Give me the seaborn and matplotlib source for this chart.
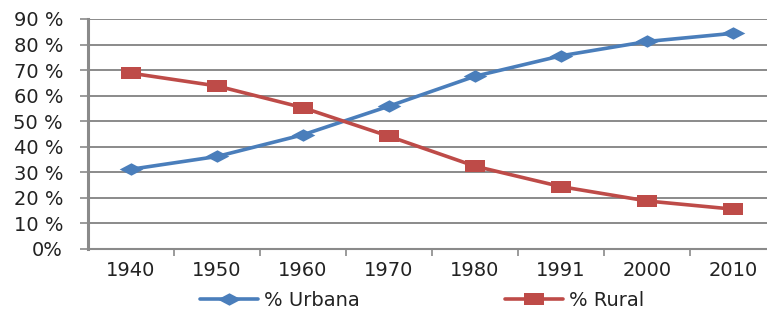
import matplotlib
matplotlib.use("Agg")
import matplotlib.pyplot as plt
import seaborn as sns
import pandas as pd
import numpy as np
from matplotlib.ticker import FixedLocator
from matplotlib.path import Path
from matplotlib.lines import Line2D

years = ["1940", "1950", "1960", "1970", "1980", "1991", "2000", "2010"]
urbana = [31.2, 36.2, 44.7, 55.9, 67.6, 75.6, 81.2, 84.4]
rural = [68.8, 63.8, 55.3, 44.1, 32.4, 24.4, 18.8, 15.6]
series_names = ["% Urbana", "% Rural"]
y_ticks = [0, 10, 20, 30, 40, 50, 60, 70, 80, 90]
y_labels = ["0%", "10 %", "20 %", "30 %", "40 %", "50 %", "60 %", "70 %", "80 %", "90 %"]

df = pd.DataFrame({
    "year": years * 2,
    "value": urbana + rural,
    "serie": [series_names[0]] * len(years) + [series_names[1]] * len(years),
})

sns.set_style("white")
plt.rcParams["font.family"] = ["DejaVu Sans"]

# horizontally stretched markers (like the reference)
wide_diamond = Path([(-1.9, 0), (0, 1), (1.9, 0), (0, -1), (-1.9, 0)],
                    [Path.MOVETO, Path.LINETO, Path.LINETO, Path.LINETO, Path.CLOSEPOLY])
wide_square = Path([(-1.6, -1), (1.6, -1), (1.6, 1), (-1.6, 1), (-1.6, -1)],
                   [Path.MOVETO, Path.LINETO, Path.LINETO, Path.LINETO, Path.CLOSEPOLY])

fig = plt.figure(figsize=(7.67, 3.11), dpi=100)
ax = fig.add_axes([88 / 767, 1 - 249 / 311, 688 / 767, 230 / 311])

colors = ["#4A7EBB", "#BE4B48"]
sns.lineplot(data=df, x="year", y="value", hue="serie", style="serie",
             markers=[wide_diamond, wide_square], dashes=False, palette=colors,
             linewidth=2.6, markersize=15, markeredgewidth=0,
             ax=ax, legend=False, sort=False)
for line, ms in zip(ax.get_lines(), [17, 14]):
    line.set_markersize(ms)

ax.set_xlim(-0.5, len(years) - 0.5)
ax.set_ylim(0, 90)
ax.set_yticks(y_ticks)
ax.set_yticklabels(y_labels)
ax.yaxis.grid(True, color="#8a8a8a", linewidth=1.4)
ax.set_axisbelow(True)
ax.set_xlabel("")
ax.set_ylabel("")

for s in ["top", "right"]:
    ax.spines[s].set_visible(False)
ax.spines["left"].set_color("#8a8a8a")
ax.spines["left"].set_linewidth(2.2)
ax.spines["bottom"].set_color("#8a8a8a")
ax.spines["bottom"].set_linewidth(1.5)

ax.tick_params(axis="y", which="major", length=6, width=1.2, color="#8a8a8a",
               labelsize=14, labelcolor="#222222", pad=12, direction="out", left=True)
ax.tick_params(axis="x", which="major", length=0, labelsize=14,
               labelcolor="#222222", pad=9)
ax.xaxis.set_minor_locator(FixedLocator(np.arange(0.5, len(years) - 0.5, 1)))
ax.tick_params(axis="x", which="minor", length=5, width=1.2, color="#8a8a8a",
               direction="out", bottom=True)

markers = [wide_diamond, wide_square]
sizes = [17, 14]
for i, (name, col) in enumerate(zip(series_names, colors)):
    h = Line2D([0], [0], color=col, lw=2.6, marker=markers[i], markersize=sizes[i],
               markeredgewidth=0)
    x0 = [200, 505][i] / 767
    fig.legend([h], [name], loc="center left", bbox_to_anchor=(x0, 0.035),
               frameon=False, fontsize=14, handlelength=3.0,
               handletextpad=0.3, borderpad=0, borderaxespad=0,
               labelcolor="#222222")

fig.savefig("out.png", dpi=100)
